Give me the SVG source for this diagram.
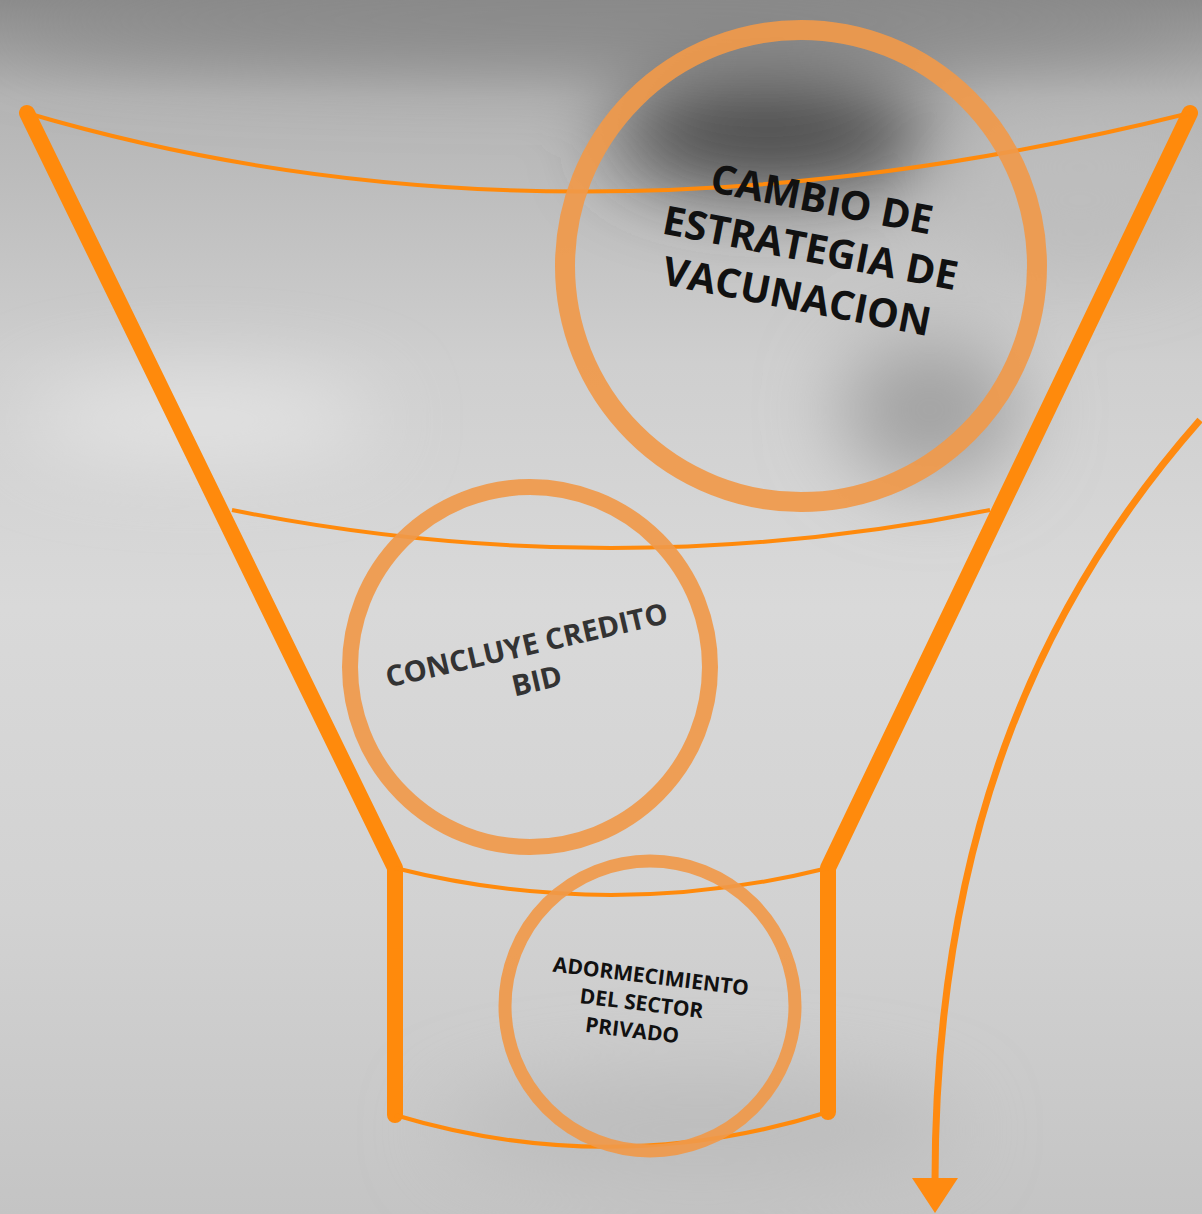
<svg xmlns="http://www.w3.org/2000/svg" width="1202" height="1214" viewBox="0 0 1202 1214">
<defs>
<linearGradient id="bg" x1="0" y1="0" x2="0" y2="1">
<stop offset="0" stop-color="#8c8c8c"/>
<stop offset="0.08" stop-color="#b4b4b4"/>
<stop offset="0.3" stop-color="#cfcfcf"/>
<stop offset="0.5" stop-color="#d9d9d9"/>
<stop offset="0.75" stop-color="#d2d2d2"/>
<stop offset="1" stop-color="#c4c4c4"/>
</linearGradient>
<filter id="blur" filterUnits="userSpaceOnUse" x="-200" y="-200" width="1600" height="1600"><feGaussianBlur stdDeviation="40"/></filter>
<style>
.frame{fill:none;stroke:#ff8a0c;stroke-width:16;stroke-linecap:round;stroke-linejoin:round}
.rim{fill:none;stroke:#ff8a0c;stroke-width:4}
.ring{fill:none;stroke:#f0994a;stroke-opacity:0.92}
.lbl{font-family:"Open Sans","Liberation Sans",sans-serif;font-weight:700;text-anchor:middle}
</style>
</defs>
<rect width="1202" height="1214" fill="url(#bg)"/>
<g filter="url(#blur)">
<ellipse cx="770" cy="135" rx="160" ry="55" fill="#454545"/>
<ellipse cx="600" cy="20" rx="600" ry="40" fill="#888"/>
<ellipse cx="930" cy="410" rx="90" ry="70" fill="#a0a0a0"/>
<ellipse cx="200" cy="420" rx="180" ry="40" fill="#e4e4e4"/>
<ellipse cx="700" cy="1130" rx="260" ry="50" fill="#bcbcbc"/>
<ellipse cx="1080" cy="200" rx="120" ry="60" fill="#bdbdbd"/>
</g>
<g id="funnel">
<path class="frame" d="M27,113 L395,868 L395,1115"/>
<path class="frame" d="M1190,113 L828,868 L828,1112"/>
<path class="rim" d="M27,113 Q560,270 1190,113"/>
<path class="rim" d="M232,510 Q611,586 990,510"/>
<path class="rim" d="M395,868 Q611,922 828,868"/>
<path class="rim" d="M395,1115 Q611,1180 828,1112"/>
</g>
<g id="node-cambio">
<circle class="ring" cx="801" cy="266" r="236" stroke-width="20"/>
<g class="lbl" font-size="40" fill="#111" transform="rotate(11 810 250)">
<text x="812" y="212">CAMBIO DE</text>
<text x="810" y="262">ESTRATEGIA DE</text>
<text x="806" y="312">VACUNACION</text>
</g>
</g>
<g id="node-credito">
<circle class="ring" cx="530" cy="667" r="180" stroke-width="16"/>
<g class="lbl" font-size="29" font-weight="600" fill="#333" transform="rotate(-13 530 660)">
<text x="530" y="655">CONCLUYE CREDITO</text>
<text x="532" y="692">BID</text>
</g>
</g>
<g id="node-adormecimiento">
<circle class="ring" cx="650" cy="1006" r="145" stroke-width="13"/>
<g class="lbl" font-size="21" fill="#111" transform="rotate(7 645 1000)">
<text x="648" y="983">ADORMECIMIENTO</text>
<text x="642" y="1011">DEL SECTOR</text>
<text x="636" y="1039">PRIVADO</text>
</g>
</g>
<g id="connectors">
<path d="M1200,420 C1050,590 935,820 935,1182" fill="none" stroke="#ff8a10" stroke-width="7"/>
<path d="M912,1178 L958,1178 L935,1213 z" fill="#ff8a10"/>
</g>
</svg>
